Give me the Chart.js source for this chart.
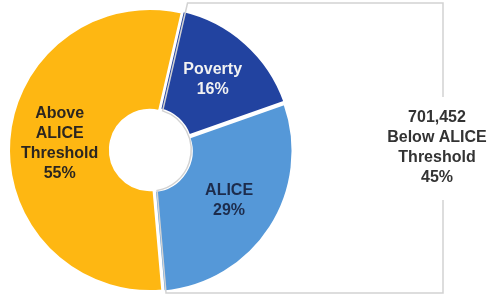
<!DOCTYPE html>
<html>
    <head>
        <meta charset="UTF-8">
        <title>ALICE households</title>
        <script src="https://cdn.jsdelivr.net/npm/chart.js@4.4.0/dist/chart.umd.min.js"></script>
        <style>
            body { margin: 0; background: #fff; }
            #container { position: absolute; left: 0; top: 0; width: 493px; height: 295px; }
        </style>
    </head>
    <body>
        <div id="container">
            <canvas id="aliceCanvas" width="493" height="295"></canvas>
        </div>

        <script type="text/javascript">
            var sliceLabels = ['Poverty', 'ALICE', 'Above ALICE Threshold'];
            var slicePercent = [16, 29, 55];
            var sliceLines = [['Poverty', '16%'], ['ALICE', '29%'], ['Above', 'ALICE', 'Threshold', '55%']];
            var belowLines = ['701,452', 'Below ALICE', 'Threshold', '45%'];

            var sliceColors = ['#2243a0', '#5598d8', '#feb712'];
            var textColors = ['#f2f2f2', '#1d2c4c', '#2b2620'];

            // slice labels + the gray bracket round the two blue slices
            var labelPlugin = {
                id: 'sliceText',
                afterDraw: function (chart) {
                    var ctx = chart.ctx;
                    var meta = chart.getDatasetMeta(0);
                    ctx.save();
                    ctx.font = 'bold 16px "Liberation Sans", Arial, sans-serif';
                    ctx.textAlign = 'center';
                    ctx.textBaseline = 'middle';
                    meta.data.forEach(function (arc, i) {
                        var pos = arc.tooltipPosition();
                        var lines = sliceLines[i];
                        var y0 = pos.y - (lines.length - 1) * 10;
                        ctx.fillStyle = textColors[i];
                        lines.forEach(function (t, j) {
                            ctx.fillText(t, pos.x, y0 + j * 20);
                        });
                    });

                    // bracket: follows the gap next to the yellow slice
                    var above = meta.data[2];
                    var cx = above.x, cy = above.y;
                    var a1 = above.endAngle, a0 = above.startAngle;
                    var d = 3.5, rh = above.innerRadius + 1;
                    var topR = (3 - cy - d * Math.cos(a1)) / Math.sin(a1);
                    var topX = cx + topR * Math.cos(a1) - d * Math.sin(a1);
                    var botR = (293 - cy + d * Math.cos(a0)) / Math.sin(a0);
                    var botX = cx + botR * Math.cos(a0) + d * Math.sin(a0);
                    var rIn = Math.sqrt(rh * rh - d * d);
                    var t1 = a1 + Math.atan(d / rIn);
                    var t0 = a0 - Math.atan(d / rIn);

                    ctx.strokeStyle = '#d2d2d2';
                    ctx.lineWidth = 1.5;
                    ctx.beginPath();
                    ctx.moveTo(443, 97);
                    ctx.lineTo(443, 3);
                    ctx.lineTo(topX, 3);
                    ctx.lineTo(cx + rh * Math.cos(t1), cy + rh * Math.sin(t1));
                    ctx.arc(cx, cy, rh, t1 - 2 * Math.PI, t0, false);
                    ctx.lineTo(botX, 293);
                    ctx.lineTo(443, 293);
                    ctx.lineTo(443, 200);
                    ctx.stroke();

                    ctx.fillStyle = '#333333';
                    belowLines.forEach(function (t, j) {
                        ctx.fillText(t, 437, 118 + j * 20);
                    });
                    ctx.restore();
                }
            };

            var ctx = document.getElementById('aliceCanvas').getContext('2d');
            window.aliceChart = new Chart(ctx, {
                type: 'doughnut',
                data: {
                    labels: sliceLabels,
                    datasets: [{
                            data: slicePercent,
                            backgroundColor: sliceColors,
                            borderColor: '#ffffff',
                            borderWidth: 2,
                            offset: [7, 7, 0],
                            clip: false
                        }]
                },
                options: {
                    responsive: false,
                    animation: false,
                    rotation: 13,
                    radius: 141,
                    cutout: 40,
                    layout: {
                        padding: { top: 5, right: 193 }
                    },
                    plugins: {
                        legend: { display: false },
                        tooltip: { enabled: false },
                        title: { display: false }
                    }
                },
                plugins: [labelPlugin]
            });
        </script>
    </body>
</html>
